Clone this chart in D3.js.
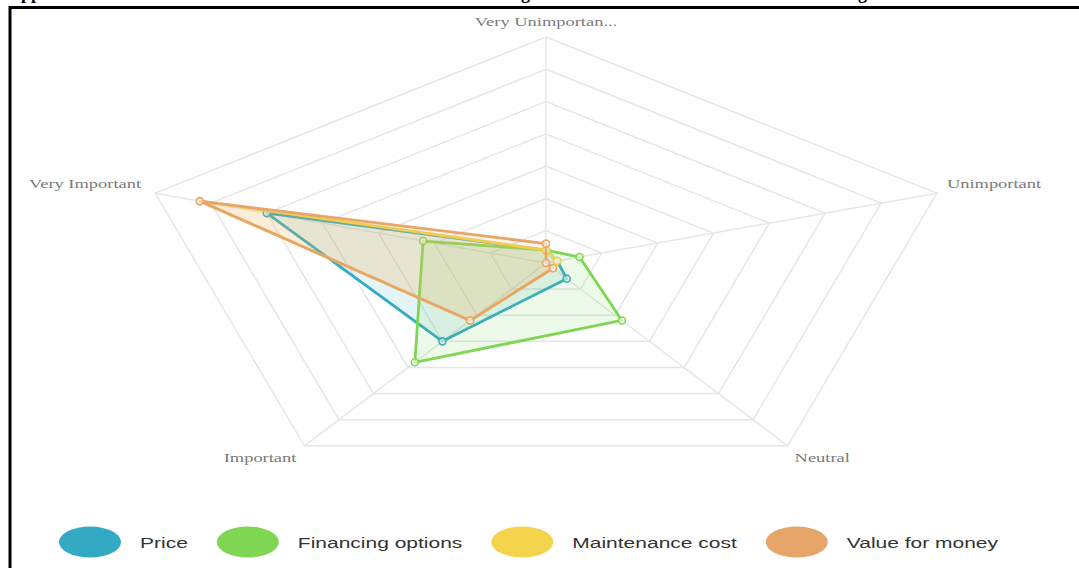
<!DOCTYPE html>
<html>
<head>
<meta charset="utf-8">
<script src="https://cdn.jsdelivr.net/npm/d3@7"></script>
<style>
  html, body { margin: 0; padding: 0; background: #fff; }
  svg { display: block; }
</style>
</head>
<body>
<svg id="chart" width="1079" height="568"></svg>
<script>
// Axes of the radar, clockwise from the top
const categories = ["Very Unimportant", "Unimportant", "Neutral", "Important", "Very Important"];

// Number of respondents per rating, same order as categories
const seriesNames = ["Price", "Financing options", "Maintenance cost", "Value for money"];
const priceValues       = [2, 1, 3, 15, 25];
const financingValues   = [2, 3, 11, 19, 11];
const maintenanceValues = [2, 1, 1, 11, 31];
const valueMoneyValues  = [3, 0, 1, 11, 31];

const seriesColors = ["#33a9c4", "#7ed653", "#f4d34d", "#e6a66a"];
const radarMax = 35;
const ringCount = 7;

// Title fragments (the line sits mostly above the frame)
const titleParts = [
  { text: "Appendix", x: 8, anchor: "start" },
  { text: "rating", x: 530, anchor: "end" },
  { text: "Rating", x: 867, anchor: "end" }
];

const series = seriesNames.map((name, i) => ({
  name,
  color: seriesColors[i],
  values: [priceValues, financingValues, maintenanceValues, valueMoneyValues][i]
}));

const svg = d3.select("#chart");

svg.selectAll("text.title")
  .data(titleParts)
  .join("text")
  .attr("class", "title")
  .attr("x", d => d.x)
  .attr("y", -0.8)
  .attr("text-anchor", d => d.anchor)
  .attr("font-family", "Liberation Serif, serif")
  .attr("font-weight", "bold")
  .attr("font-size", 18)
  .attr("fill", "#000")
  .text(d => d.text);

// Frame
svg.append("path")
  .attr("d", "M10,568 L10,7.5 L1079,7.5")
  .attr("fill", "none")
  .attr("stroke", "#000")
  .attr("stroke-width", 3);

// Radar geometry (wide, flattened pentagon)
const cx = 546, cy = 263, rx = 411, ry = 226;
const rScale = d3.scaleLinear().domain([0, radarMax]).range([0, 1]);
const angle = d3.scaleLinear().domain([0, categories.length]).range([0, 2 * Math.PI]);

function pt(i, v) {
  const f = rScale(v), a = angle(i);
  return [cx + rx * f * Math.sin(a), cy - ry * f * Math.cos(a)];
}

const g = svg.append("g");

// Grid rings
const ringValues = d3.range(1, ringCount + 1).map(k => k * radarMax / ringCount);
g.selectAll("path.ring")
  .data(ringValues)
  .join("path")
  .attr("class", "ring")
  .attr("d", v => d3.line()(categories.map((c, i) => pt(i, v))) + "Z")
  .attr("fill", "none")
  .attr("stroke", "#e6e6e6")
  .attr("stroke-width", 1.5);

// Spokes
g.selectAll("line.spoke")
  .data(categories)
  .join("line")
  .attr("class", "spoke")
  .attr("x1", cx).attr("y1", cy)
  .attr("x2", (c, i) => pt(i, radarMax)[0])
  .attr("y2", (c, i) => pt(i, radarMax)[1])
  .attr("stroke", "#e6e6e6")
  .attr("stroke-width", 1.5);

// Axis names
const labelFmt = s => s.length > 15 ? s.slice(0, 15) + "..." : s;
const labelPlace = [
  { dx: 0, dy: -11, anchor: "middle" },
  { dx: 10, dy: -5.5, anchor: "start" },
  { dx: 7, dy: 16, anchor: "start" },
  { dx: -8, dy: 16, anchor: "end" },
  { dx: -14, dy: -5.5, anchor: "end" }
];
g.selectAll("text.axis")
  .data(categories)
  .join("text")
  .attr("class", "axis")
  .attr("transform", (c, i) => {
    const p = pt(i, radarMax);
    return `translate(${p[0] + labelPlace[i].dx},${p[1] + labelPlace[i].dy}) scale(1.42,1)`;
  })
  .attr("text-anchor", (c, i) => labelPlace[i].anchor)
  .attr("font-family", "Liberation Serif, serif")
  .attr("font-size", 13)
  .attr("fill", "#7a7a7a")
  .text(labelFmt);

// Series areas
const sg = g.selectAll("g.series")
  .data(series)
  .join("g")
  .attr("class", "series");

sg.append("path")
  .attr("d", s => d3.line()(s.values.map((v, i) => pt(i, v))) + "Z")
  .attr("fill", s => s.color)
  .attr("fill-opacity", 0.13)
  .attr("stroke", s => s.color)
  .attr("stroke-width", 2.8)
  .attr("stroke-linejoin", "round");

sg.selectAll("circle")
  .data(s => s.values.map((v, i) => ({ v, i, color: s.color })))
  .join("circle")
  .attr("cx", d => pt(d.i, d.v)[0])
  .attr("cy", d => pt(d.i, d.v)[1])
  .attr("r", 3.5)
  .attr("fill", "#fff")
  .attr("fill-opacity", 0.6)
  .attr("stroke", d => d.color)
  .attr("stroke-width", 1.6);

// Legend
const legend = svg.append("g").attr("transform", "translate(0,542)");
let lx = 58;
series.forEach(s => {
  const item = legend.append("g");
  item.append("ellipse")
    .attr("cx", lx + 32).attr("cy", 0)
    .attr("rx", 31).attr("ry", 15.5)
    .attr("fill", s.color);
  const t = item.append("text")
    .attr("transform", `translate(${lx + 82},5.5) scale(1.4,1)`)
    .attr("font-family", "Liberation Sans, Arial, sans-serif")
    .attr("font-size", 15)
    .attr("fill", "#333")
    .text(s.name);
  const w = t.node().getComputedTextLength() * 1.4;
  lx = lx + 82 + w + 28;
});
</script>
</body>
</html>
